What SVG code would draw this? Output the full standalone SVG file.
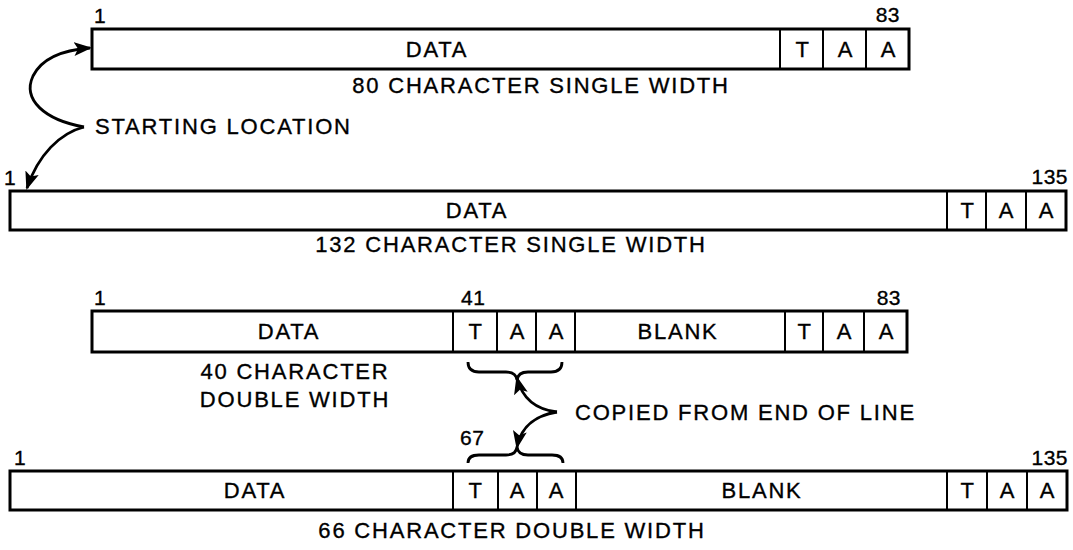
<svg xmlns="http://www.w3.org/2000/svg" width="1073" height="550" viewBox="0 0 1073 550">
<style>
.box{fill:#fff;stroke:#000;stroke-width:3}
.div{stroke:#000;stroke-width:2}
text{font-family:"Liberation Sans",Arial,sans-serif;fill:#000;stroke:#000;stroke-width:0.35}
.t{font-size:22px;letter-spacing:1.8px;text-anchor:middle}
.l{font-size:22px;letter-spacing:1.8px}
.n{font-size:21px;letter-spacing:0.5px}
.ne{font-size:21px;letter-spacing:0.5px;text-anchor:end}
.c{fill:none;stroke:#000;stroke-width:2.8}
</style>
<defs>
<marker id="ah" markerUnits="userSpaceOnUse" markerWidth="20" markerHeight="16" refX="16" refY="7" orient="auto">
<path d="M0,0 L18,7 L0,14 L4,7 Z" fill="#000"/>
</marker>
</defs>
<rect width="1073" height="550" fill="#fff"/>

<g id="row80">
<rect class="box" x="92" y="29" width="817" height="40"/>
<line class="div" x1="780" y1="29" x2="780" y2="69"/>
<line class="div" x1="823" y1="29" x2="823" y2="69"/>
<line class="div" x1="866" y1="29" x2="866" y2="69"/>
<text class="t" x="437" y="57">DATA</text>
<text class="t" x="803" y="57">T</text>
<text class="t" x="846" y="57">A</text>
<text class="t" x="889" y="57">A</text>
<text class="n" x="94" y="23">1</text>
<text class="ne" x="900" y="22">83</text>
<text class="t" x="541" y="93">80 CHARACTER SINGLE WIDTH</text>
</g>

<g id="row132">
<rect class="box" x="10" y="191" width="1056" height="39"/>
<line class="div" x1="947" y1="191" x2="947" y2="230"/>
<line class="div" x1="986" y1="191" x2="986" y2="230"/>
<line class="div" x1="1026" y1="191" x2="1026" y2="230"/>
<text class="t" x="477" y="218">DATA</text>
<text class="t" x="968" y="218">T</text>
<text class="t" x="1007" y="218">A</text>
<text class="t" x="1047" y="218">A</text>
<text class="n" x="4" y="185">1</text>
<text class="ne" x="1068" y="184">135</text>
<text class="t" x="511" y="252">132 CHARACTER SINGLE WIDTH</text>
</g>

<g id="row40">
<rect class="box" x="92" y="311" width="815" height="41"/>
<line class="div" x1="453" y1="311" x2="453" y2="352"/>
<line class="div" x1="497" y1="311" x2="497" y2="352"/>
<line class="div" x1="536" y1="311" x2="536" y2="352"/>
<line class="div" x1="575" y1="311" x2="575" y2="352"/>
<line class="div" x1="785" y1="311" x2="785" y2="352"/>
<line class="div" x1="823" y1="311" x2="823" y2="352"/>
<line class="div" x1="864" y1="311" x2="864" y2="352"/>
<text class="t" x="289" y="339">DATA</text>
<text class="t" x="476" y="339">T</text>
<text class="t" x="518" y="339">A</text>
<text class="t" x="557" y="339">A</text>
<text class="t" x="678" y="339">BLANK</text>
<text class="t" x="805" y="339">T</text>
<text class="t" x="845" y="339">A</text>
<text class="t" x="887" y="339">A</text>
<text class="n" x="94" y="305">1</text>
<text class="n" x="461" y="305">41</text>
<text class="ne" x="901" y="305">83</text>
<text class="t" x="295" y="379">40 CHARACTER</text>
<text class="t" x="295" y="407">DOUBLE WIDTH</text>
</g>

<g id="row66">
<rect class="box" x="10" y="471" width="1057" height="39"/>
<line class="div" x1="453" y1="471" x2="453" y2="510"/>
<line class="div" x1="498" y1="471" x2="498" y2="510"/>
<line class="div" x1="537" y1="471" x2="537" y2="510"/>
<line class="div" x1="576" y1="471" x2="576" y2="510"/>
<line class="div" x1="947" y1="471" x2="947" y2="510"/>
<line class="div" x1="987" y1="471" x2="987" y2="510"/>
<line class="div" x1="1027" y1="471" x2="1027" y2="510"/>
<text class="t" x="255" y="498">DATA</text>
<text class="t" x="476" y="498">T</text>
<text class="t" x="518" y="498">A</text>
<text class="t" x="557" y="498">A</text>
<text class="t" x="762" y="498">BLANK</text>
<text class="t" x="968" y="498">T</text>
<text class="t" x="1008" y="498">A</text>
<text class="t" x="1048" y="498">A</text>
<text class="n" x="14" y="465">1</text>
<text class="n" x="460" y="445">67</text>
<text class="ne" x="1068" y="465">135</text>
<text class="t" x="512" y="538">66 CHARACTER DOUBLE WIDTH</text>
</g>

<g id="starting-location">
<text class="l" x="95" y="134">STARTING LOCATION</text>
</g>

<g id="copied-from-end">
<text class="l" x="575" y="420">COPIED FROM END OF LINE</text>
</g>

<g id="connectors">
<path class="c" marker-end="url(#ah)" d="M84,127 C45,120 22,100 33,76 C42,58 62,50 90,48"/>
<path class="c" marker-end="url(#ah)" d="M84,127 C60,133 38,155 27,188"/>
<path class="c" d="M468,362 Q468,372 479,372 L506,372 Q516,372 517,380 Q518,372 528,372 L551,372 Q562,372 562,362"/>
<path class="c" d="M468,463 Q468,455 479,455 L506,455 Q516,455 517,447 Q518,455 528,455 L552,455 Q563,455 563,463"/>
<path class="c" marker-end="url(#ah)" d="M557,412 C540,410 523,402 517,378"/>
<path class="c" marker-end="url(#ah)" d="M557,412 C538,415 521,425 517,447"/>
</g>
</svg>
